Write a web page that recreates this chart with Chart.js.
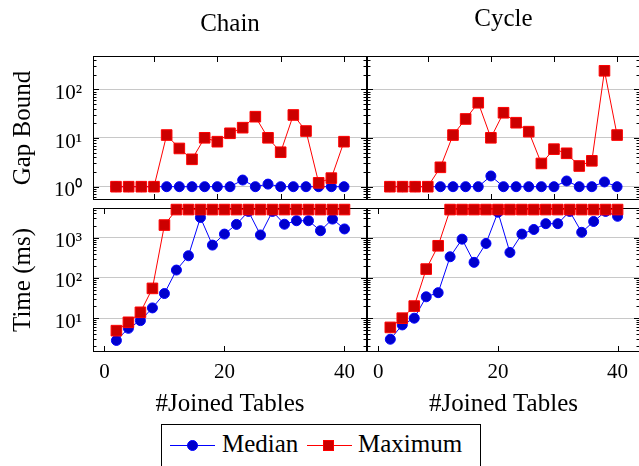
<!DOCTYPE html>
<html>
<head>
<meta charset="utf-8">
<script src="https://cdn.jsdelivr.net/npm/chart.js@4.4.1/dist/chart.umd.min.js"></script>
<style>
  html, body { margin: 0; padding: 0; background: #fff; }
  body { width: 639px; height: 466px; position: relative; overflow: hidden; font-family: "Liberation Serif", serif; }
  canvas { position: absolute; }
  #legend { position: absolute; left: 161px; top: 424px; width: 318px; height: 60px; border: 1px solid #000; }
  #legend .ln { position: absolute; top: 20px; width: 45px; height: 1px; }
  #legend .mk { position: absolute; box-sizing: border-box; width: 11px; height: 11px; }
  #legend .tx { position: absolute; top: 4px; font-size: 25px; line-height: 30px; color: #000; white-space: nowrap; }
</style>
</head>
<body>
<canvas id="chain-gap" width="368" height="202" style="left:0;top:0"></canvas>
<canvas id="cycle-gap" width="282" height="202" style="left:360px;top:0"></canvas>
<canvas id="chain-time" width="368" height="220" style="left:0;top:203px"></canvas>
<canvas id="cycle-time" width="282" height="220" style="left:360px;top:203px"></canvas>

<div id="legend">
  <div class="ln" style="left:8px;background:#0000ff"></div>
  <div class="mk" style="left:25px;top:15px;border-radius:50%;background:#0000cc;border:1px solid #0000ff"></div>
  <div class="tx" style="left:60px">Median</div>
  <div class="ln" style="left:145px;background:#ff0000"></div>
  <div class="mk" style="left:161px;top:15px;background:#cc0000;border:1px solid #ff0000"></div>
  <div class="tx" style="left:196px">Maximum</div>
</div>

<script>
// number of joined tables
const gapX = [4, 6, 8, 10, 12, 14, 16, 18, 20, 22, 24, 26, 28, 30, 32, 34, 36, 38, 40];
const timeX = [2, 4, 6, 8, 10, 12, 14, 16, 18, 20, 22, 24, 26, 28, 30, 32, 34, 36, 38, 40];

// gap bound
const chainGapMedian = [1, 1, 1, 1, 1, 1, 1, 1, 1, 1, 1.37, 1, 1.13, 1, 1, 1, 1, 1, 1];
const chainGapMax = [1, 1, 1, 1, 11.5, 6.1, 3.65, 10.1, 8.4, 12.5, 16.3, 27.4, 10.1, 5.1, 29.7, 13.9, 1.2, 1.5, 8.4];
const cycleGapMedian = [1, 1, 1, 1, 1, 1, 1, 1, 1.66, 1, 1, 1, 1, 1, 1.31, 1, 1, 1.25, 1];
const cycleGapMax = [1, 1, 1, 1, 2.5, 11.5, 24.6, 53, 10.1, 33, 20.6, 13.5, 3.0, 5.9, 4.85, 2.66, 3.4, 240, 11.5];

// time (ms)
const chainTimeMedian = [2.8, 5.6, 8.7, 18, 41, 157, 356, 3170, 655, 1230, 2140, 4500, 1170, 4500, 2160, 2640, 2640, 1490, 2900, 1650];
const chainTimeMax = [4.9, 7.9, 14, 55, 2060, 5000, 5000, 5000, 5000, 5000, 5000, 5000, 5000, 5000, 5000, 5000, 5000, 5000, 5000, 5000];
const cycleTimeMedian = [3.0, 6.8, 10, 34, 43, 336, 920, 244, 720, 4300, 430, 1230, 1600, 2230, 2230, 4500, 1360, 2530, 4500, 3400];
const cycleTimeMax = [5.9, 10, 20, 166, 630, 5000, 5000, 5000, 5000, 5000, 5000, 5000, 5000, 5000, 5000, 5000, 5000, 5000, 5000, 5000];

// ticks
const gapYTicks = [1, 10, 100];
const gapYLabels = ['10⁰', '10¹', '10²'];
const timeYTicks = [10, 100, 1000];
const timeYLabels = ['10¹', '10²', '10³'];
const topXTicks = [10, 20, 30, 40];
const bottomXTicks = [0, 20, 40];
const bottomXLabels = ['0', '20', '40'];

const SERIF = '"Liberation Serif", "Times New Roman", serif';
const tickFont = { family: SERIF, size: 21 };
const labelFont = { family: SERIF, size: 25 };

// pgfplots-like box with inward ticks (drawn under the marks)
const frame = {
    id: 'frame',
    beforeDatasetsDraw(chart) {
        const { ctx, chartArea: a, scales: { x, y } } = chart;
        ctx.save();
        ctx.strokeStyle = '#000';
        ctx.lineWidth = 1;
        ctx.beginPath();
        x.ticks.forEach((t) => {
            const px = Math.round(x.getPixelForValue(t.value)) + 0.5;
            ctx.moveTo(px, a.bottom); ctx.lineTo(px, a.bottom - 6);
            ctx.moveTo(px, a.top); ctx.lineTo(px, a.top + 6);
        });
        for (let e = Math.floor(Math.log10(y.min)); e <= Math.ceil(Math.log10(y.max)); e++) {
            for (let k = 1; k <= 9; k++) {
                const v = k * Math.pow(10, e);
                if (v < y.min || v > y.max) continue;
                const py = Math.round(y.getPixelForValue(v)) + 0.5;
                const len = k === 1 ? 6 : 3.5;
                ctx.moveTo(a.left, py); ctx.lineTo(a.left + len, py);
                ctx.moveTo(a.right, py); ctx.lineTo(a.right - len, py);
            }
        }
        ctx.stroke();
        ctx.strokeRect(a.left + 0.5, a.top + 0.5, a.right - a.left - 1, a.bottom - a.top - 1);
        ctx.restore();
    },
};

const medianStyle = {
    label: 'Median',
    order: 2,
    borderColor: '#0000ff',
    backgroundColor: '#0000cc',
    borderWidth: 1,
    pointStyle: 'circle',
    pointRadius: 5,
    pointBorderWidth: 1,
    pointBorderColor: '#0000ff',
    pointBackgroundColor: '#0000cc',
};
const maxStyle = {
    label: 'Maximum',
    order: 1,
    borderColor: '#ff0000',
    backgroundColor: '#cc0000',
    borderWidth: 1,
    pointStyle: 'rect',
    pointRadius: 7.5,
    pointBorderWidth: 1,
    pointBorderColor: '#ff0000',
    pointBackgroundColor: '#cc0000',
};

function panel(id, o) {
    const points = (ys) => o.x.map((x, i) => ({ x, y: ys[i] }));
    return new Chart(document.getElementById(id), {
        type: 'line',
        data: {
            datasets: [
                { ...medianStyle, data: points(o.median), tension: 0, fill: false, clip: false },
                { ...maxStyle, data: points(o.max), tension: 0, fill: false, clip: false },
            ],
        },
        options: {
            responsive: false,
            animation: false,
            devicePixelRatio: 1,
            events: [],
            layout: { padding: o.padding, autoPadding: false },
            plugins: {
                legend: { display: false },
                tooltip: { enabled: false },
                title: {
                    display: !!o.title,
                    text: o.title,
                    fullSize: false,
                    color: '#000',
                    font: { ...labelFont, weight: 'normal' },
                    padding: o.titlePadding,
                },
            },
            scales: {
                x: {
                    type: 'linear',
                    min: o.xMin,
                    max: o.xMax,
                    grid: { display: false, drawTicks: false },
                    border: { display: false },
                    afterBuildTicks: (s) => { s.ticks = o.xTicks.map((value) => ({ value })); },
                    afterFit: (s) => {
                        s.height = o.xHeight;
                        s.paddingLeft = 0;
                        s.paddingRight = 0;
                    },
                    ticks: {
                        display: !!o.xLabels,
                        autoSkip: false,
                        maxRotation: 0,
                        padding: 8,
                        color: '#000',
                        font: tickFont,
                        callback: (v, i) => (o.xLabels ? o.xLabels[i] : ''),
                    },
                    title: {
                        display: !!o.xLabels,
                        text: '#Joined Tables',
                        color: '#000',
                        font: labelFont,
                        padding: { top: 0, bottom: 4 },
                    },
                },
                y: {
                    type: 'logarithmic',
                    min: o.yMin,
                    max: o.yMax,
                    grid: { color: '#c8c8c8', lineWidth: 1, drawTicks: false },
                    border: { display: false },
                    afterBuildTicks: (s) => { s.ticks = o.yTicks.map((value) => ({ value })); },
                    afterFit: (s) => {
                        s.width = o.yWidth;
                        s.paddingTop = 0;
                        s.paddingBottom = 0;
                    },
                    ticks: {
                        display: !!o.yTitle,
                        autoSkip: false,
                        padding: 11,
                        labelOffset: 4,
                        color: '#000',
                        font: tickFont,
                        callback: (v, i) => o.yLabels[i],
                    },
                    title: {
                        display: !!o.yTitle,
                        text: o.yTitle,
                        color: '#000',
                        font: labelFont,
                        padding: { top: 8.5, bottom: 0 },
                    },
                },
            },
        },
        plugins: [frame],
    });
}

const topPanel = {
    x: gapX, xMin: 0.37, xMax: 43.63, xTicks: topXTicks, xHeight: 0,
    yMin: 0.533, yMax: 483, yTicks: gapYTicks, yLabels: gapYLabels,
};
const bottomPanel = {
    x: timeX, xMin: -1.9, xMax: 43.75, xTicks: bottomXTicks, xLabels: bottomXLabels, xHeight: 71,
    yMin: 1.445, yMax: 5470, yTicks: timeYTicks, yLabels: timeYLabels,
};

panel('chain-gap', {
    ...topPanel, median: chainGapMedian, max: chainGapMax,
    title: 'Chain', titlePadding: { top: 9, bottom: 17 },
    yTitle: 'Gap Bound', yWidth: 93,
    padding: { left: 0, right: 1, top: 0, bottom: 2 },
});
panel('cycle-gap', {
    ...topPanel, median: cycleGapMedian, max: cycleGapMax,
    title: 'Cycle', titlePadding: { top: 4, bottom: 22 },
    yWidth: 7,
    padding: { left: 0, right: 2, top: 0, bottom: 2 },
});
panel('chain-time', {
    ...bottomPanel, median: chainTimeMedian, max: chainTimeMax,
    yTitle: 'Time (ms)', yWidth: 93,
    padding: { left: 0, right: 1, top: 5, bottom: 0 },
});
panel('cycle-time', {
    ...bottomPanel, median: cycleTimeMedian, max: cycleTimeMax,
    yWidth: 7,
    padding: { left: 0, right: 2, top: 5, bottom: 0 },
});
</script>
</body>
</html>
